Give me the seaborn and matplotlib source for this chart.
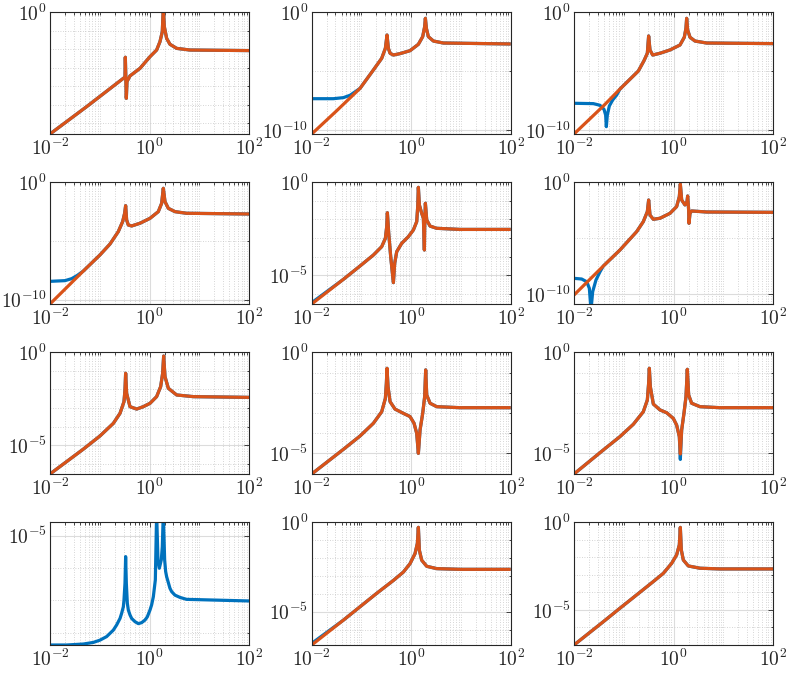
import numpy as np
import pandas as pd
import matplotlib
matplotlib.use("Agg")
import matplotlib.pyplot as plt
import seaborn as sns
from matplotlib.ticker import FixedLocator, FixedFormatter, NullFormatter

sns.set_style("white")
plt.rcParams["mathtext.fontset"] = "cm"
plt.rcParams["font.family"] = ["DejaVu Serif"]

BLUE = "#0072BD"
ORANGE = "#D95319"

# ---------------- data (log10 of frequency / log10 of magnitude) ----------------
# Panel A (row 1, col 1)
f_A = [-2.0, -1.264, -0.528, -0.495, -0.488, -0.468, -0.455, -0.395, -0.194, 0.007, 0.14, 0.207, 0.254, 0.274, 0.294, 0.341, 0.408, 0.542, 0.809, 2.0]
o_A = [-6.58, -5.10, -3.57, -3.51, -2.43, -4.65, -3.75, -3.44, -3.03, -2.40, -2.04, -1.59, -1.05, 0.3, -0.77, -1.41, -1.73, -1.95, -2.04, -2.07]

# Panel B (row 1, col 2)
f_B = [-2.0, -1.497, -1.028, -0.760, -0.593, -0.519, -0.486, -0.459, -0.425, -0.358, -0.224, -0.023, 0.144, 0.231, 0.271, 0.285, 0.305, 0.345, 0.446, 0.647, 2.0]
o_B = [-10.34, -8.36, -6.46, -4.90, -3.91, -3.06, -1.93, -3.06, -3.48, -3.63, -3.51, -3.26, -2.72, -2.07, -1.22, -0.51, -1.36, -2.07, -2.44, -2.61, -2.69]
bf_B = [-2.0, -1.564, -1.363, -1.229, -1.095]
b_B = [-7.34, -7.34, -7.25, -7.05, -6.66]

# Panel C (row 1, col 3)
f_C = [-2.0, -1.411, -1.077, -0.709, -0.595, -0.528, -0.502, -0.475, -0.421, -0.274, -0.074, 0.127, 0.214, 0.247, 0.261, 0.281, 0.328, 0.428, 0.662, 2.0]
o_C = [-10.34, -7.96, -6.52, -4.99, -4.11, -3.48, -2.01, -3.20, -3.63, -3.48, -3.20, -2.78, -2.12, -1.36, -0.51, -1.50, -2.12, -2.44, -2.61, -2.66]
bf_C = [-2.0, -1.612, -1.478, -1.398, -1.365, -1.351, -1.331, -1.291, -1.224, -1.144]
b_C = [-7.73, -7.76, -7.90, -8.24, -8.73, -9.72, -8.73, -7.96, -7.45, -7.03]

# Panel D (row 2, col 1)
f_D = [-2.0, -1.331, -0.997, -0.796, -0.629, -0.542, -0.502, -0.482, -0.462, -0.428, -0.361, -0.194, 0.007, 0.174, 0.241, 0.274, 0.308, 0.375, 0.508, 0.742, 2.0]
o_D = [-10.37, -7.56, -6.19, -5.26, -4.20, -3.35, -2.64, -1.99, -3.21, -3.64, -3.72, -3.49, -3.07, -2.50, -1.79, -0.51, -1.65, -2.22, -2.50, -2.64, -2.70]
bf_D = [-2.0, -1.699, -1.565, -1.451]
b_D = [-8.44, -8.38, -8.21, -7.93]

# Panel E (row 2, col 2)
f_E = [-2.0, -1.363, -1.028, -0.760, -0.593, -0.519, -0.492, -0.479, -0.452, -0.412, -0.358, -0.332, -0.291, -0.191, -0.057, 0.044, 0.111, 0.131, 0.144, 0.164, 0.211, 0.245, 0.265, 0.271, 0.285, 0.312, 0.379, 0.513, 0.982, 2.0]
o_E = [-6.56, -5.23, -4.51, -3.92, -3.47, -3.02, -2.39, -1.64, -2.75, -4.01, -5.41, -4.37, -3.74, -3.29, -2.93, -2.57, -2.12, -1.31, -0.27, -1.22, -1.67, -1.94, -3.65, -2.39, -1.13, -2.03, -2.36, -2.48, -2.54, -2.54]
b_E_start = -6.49

# Panel F (row 2, col 3)
f_F = [-2.0, -1.411, -1.077, -0.742, -0.609, -0.528, -0.502, -0.475, -0.408, -0.274, -0.074, 0.060, 0.114, 0.134, 0.161, 0.227, 0.268, 0.281, 0.301, 0.308, 0.328, 0.361, 0.662, 2.0]
o_F = [-10.06, -7.47, -6.04, -4.40, -3.51, -2.62, -1.58, -2.92, -3.30, -3.21, -2.77, -2.17, -1.28, -0.15, -1.58, -2.02, -1.73, -1.22, -2.47, -3.66, -2.77, -2.56, -2.65, -2.68]
bf_F = [-2.0, -1.846, -1.746, -1.692, -1.659, -1.625, -1.559, -1.478]
b_F = [-8.57, -8.63, -8.87, -9.46, -11.4, -9.76, -8.72, -7.98]

# Panel G (row 3, col 1)
f_G = [-2.0, -1.331, -0.997, -0.729, -0.595, -0.515, -0.495, -0.482, -0.462, -0.395, -0.261, -0.127, 0.007, 0.140, 0.221, 0.261, 0.281, 0.308, 0.375, 0.542, 0.876, 2.0]
o_G = [-6.56, -5.22, -4.51, -3.83, -3.29, -2.66, -2.03, -1.13, -2.21, -2.93, -3.06, -2.93, -2.75, -2.39, -1.85, -1.13, -0.20, -1.31, -1.94, -2.30, -2.39, -2.43]

# Panel H (row 3, col 2)
f_H = [-2.0, -1.363, -1.028, -0.760, -0.593, -0.519, -0.499, -0.486, -0.466, -0.425, -0.325, -0.157, -0.023, 0.057, 0.111, 0.144, 0.178, 0.231, 0.271, 0.291, 0.312, 0.379, 0.513, 0.982, 2.0]
o_H = [-6.02, -4.80, -4.14, -3.51, -2.94, -2.28, -1.53, -0.79, -1.70, -2.44, -2.81, -3.02, -3.18, -3.51, -4.01, -5.00, -3.84, -3.02, -2.19, -0.87, -2.11, -2.52, -2.69, -2.74, -2.74]

# Panel I (row 3, col 3)
f_I = [-2.0, -1.411, -1.077, -0.809, -0.609, -0.528, -0.502, -0.488, -0.468, -0.408, -0.274, -0.140, -0.007, 0.060, 0.114, 0.134, 0.161, 0.207, 0.248, 0.274, 0.301, 0.361, 0.528, 0.930, 2.0]
o_I = [-6.02, -4.83, -4.17, -3.56, -2.94, -2.36, -1.53, -0.79, -1.70, -2.56, -2.85, -2.99, -3.27, -3.60, -4.17, -5.03, -3.84, -3.02, -2.19, -0.84, -2.11, -2.52, -2.69, -2.74, -2.74]
b_I = [-6.02, -4.83, -4.17, -3.56, -2.94, -2.36, -1.53, -0.79, -1.70, -2.56, -2.85, -2.99, -3.27, -3.60, -4.17, -5.30, -3.84, -3.02, -2.19, -0.84, -2.11, -2.52, -2.69, -2.74, -2.74]

# Panel J (row 4, col 1) - only one curve
f_J = [-2.0, -1.666, -1.331, -1.130, -0.997, -0.863, -0.796, -0.729, -0.662, -0.595, -0.562, -0.528, -0.515, -0.495, -0.482, -0.468, -0.448, -0.428, -0.395, -0.361, -0.294, -0.227, -0.161, -0.094, -0.047, 0.007, 0.040, 0.074, 0.114, 0.140, 0.167, 0.194, 0.234, 0.254, 0.274, 0.301, 0.321, 0.341, 0.408, 0.441, 0.508, 0.609, 0.742, 2.0]
b_J = [-8.38, -8.38, -8.35, -8.30, -8.23, -8.12, -8.02, -7.92, -7.76, -7.56, -7.40, -7.20, -6.99, -6.47, -5.65, -6.47, -7.09, -7.30, -7.45, -7.56, -7.66, -7.72, -7.69, -7.61, -7.51, -7.30, -7.14, -6.89, -6.37, -4.31, -5.75, -6.01, -5.75, -5.34, -4.31, -5.75, -6.11, -6.27, -6.63, -6.73, -6.84, -6.91, -6.97, -7.02]

# Panel K (row 4, col 2)
f_K = [-2.0, -1.363, -1.028, -0.693, -0.358, -0.157, -0.023, 0.077, 0.124, 0.144, 0.164, 0.211, 0.312, 0.513, 0.982, 2.0]
o_K = [-6.86, -5.47, -4.72, -3.97, -3.25, -2.78, -2.31, -1.75, -1.18, -0.28, -1.56, -2.12, -2.46, -2.59, -2.63, -2.63]
b_K_start = -6.77

# Panel L (row 4, col 3)
f_L = [-2.0, -1.411, -1.077, -0.742, -0.408, -0.207, -0.040, 0.060, 0.114, 0.134, 0.154, 0.194, 0.294, 0.528, 0.930, 2.0]
o_L = [-7.00, -5.67, -4.90, -4.14, -3.38, -2.91, -2.34, -1.86, -1.29, -0.29, -1.58, -2.15, -2.49, -2.62, -2.66, -2.66]

# axis ranges (log10) and tick decades
ylims = [(-6.58, 0), (-10.34, 0), (-10.34, 0),
         (-10.37, 0), (-6.56, 0), (-10.86, 0),
         (-6.56, 0), (-6.02, 0), (-6.02, 0),
         (-8.38, -4.59), (-6.86, 0), (-7.0, 0)]
y_major = [[0], [-10, 0], [-10, 0],
           [-10, 0], [-5, 0], [-10, 0],
           [-5, 0], [-5, 0], [-5, 0],
           [-5], [-5, 0], [-5, 0]]
y_minor = [[-1, -2, -3, -4, -5, -6], [-5], [-5],
           [-5], [-1, -2, -3, -4, -6], [-5],
           [-1, -2, -3, -4, -6], [-1, -2, -3, -4, -6], [-1, -2, -3, -4, -6],
           [-6, -7, -8], [-1, -2, -3, -4, -6], [-1, -2, -3, -4, -6]]
x_major = [-2, 0, 2]


def join(bf, b, f, o):
    """blue low-frequency part followed by the orange curve where they coincide"""
    xs = list(bf) + [x for x in f if x > bf[-1]]
    ys = list(b) + [y for x, y in zip(f, o) if x > bf[-1]]
    return xs, ys


curves = [
    [(f_A, o_A, BLUE), (f_A, o_A, ORANGE)],
    [(*join(bf_B, b_B, f_B, o_B), BLUE), (f_B, o_B, ORANGE)],
    [(*join(bf_C, b_C, f_C, o_C), BLUE), (f_C, o_C, ORANGE)],
    [(*join(bf_D, b_D, f_D, o_D), BLUE), (f_D, o_D, ORANGE)],
    [(f_E, [b_E_start] + o_E[1:], BLUE), (f_E, o_E, ORANGE)],
    [(*join(bf_F, b_F, f_F, o_F), BLUE), (f_F, o_F, ORANGE)],
    [(f_G, o_G, BLUE), (f_G, o_G, ORANGE)],
    [(f_H, o_H, BLUE), (f_H, o_H, ORANGE)],
    [(f_I, b_I, BLUE), (f_I, o_I, ORANGE)],
    [(f_J, b_J, BLUE)],
    [(f_K, [b_K_start] + o_K[1:], BLUE), (f_K, o_K, ORANGE)],
    [(f_L, o_L, BLUE), (f_L, o_L, ORANGE)],
]

# ---------------- layout ----------------
W, H = 792, 675
fig = plt.figure(figsize=(W / 100, H / 100), dpi=100)
cols = [(50, 249.3), (311.7, 510.7), (574, 773.3)]
rows = [(12.3, 134), (182.3, 304), (352.3, 474), (522.3, 645)]


def lab(e):
    return r"$10^{%d}$" % e


x_minor = [m * 10.0 ** k for k in range(-2, 2) for m in range(2, 10)] + [0.1, 10.0]

for i in range(12):
    r, c = divmod(i, 3)
    x0, x1 = cols[c]
    y0, y1 = rows[r]
    ax = fig.add_axes([x0 / W, 1 - y1 / H, (x1 - x0) / W, (y1 - y0) / H])
    ax.set_xscale("log")
    ax.set_yscale("log")
    for fx, my, col in curves[i]:
        df = pd.DataFrame({"f": 10.0 ** np.array(fx), "m": 10.0 ** np.array(my)})
        sns.lineplot(data=df, x="f", y="m", ax=ax, color=col, linewidth=2.3,
                     sort=False, estimator=None, solid_capstyle="butt",
                     solid_joinstyle="round")
    ax.set_xlabel("")
    ax.set_ylabel("")
    ax.set_xlim(1e-2, 1e2)
    ax.set_ylim(10.0 ** ylims[i][0], 10.0 ** ylims[i][1])

    ax.xaxis.set_major_locator(FixedLocator([10.0 ** e for e in x_major]))
    ax.xaxis.set_major_formatter(FixedFormatter([lab(e) for e in x_major]))
    ax.xaxis.set_minor_locator(FixedLocator(x_minor))
    ax.xaxis.set_minor_formatter(NullFormatter())
    ax.yaxis.set_major_locator(FixedLocator([10.0 ** e for e in y_major[i]]))
    ax.yaxis.set_major_formatter(FixedFormatter([lab(e) for e in y_major[i]]))
    ax.yaxis.set_minor_locator(FixedLocator([10.0 ** e for e in y_minor[i]]))
    ax.yaxis.set_minor_formatter(NullFormatter())

    ax.set_axisbelow(True)
    ax.grid(which="major", color="#dcdcdc", linewidth=0.8, linestyle="-")
    ax.grid(which="minor", color="#c8c8c8", linewidth=0.6, linestyle=(0, (1, 2)))
    ax.tick_params(which="both", direction="in", top=True, right=True,
                   width=0.6, color="#262626", labelsize=14, pad=2.5)
    ax.tick_params(which="major", length=3.5)
    ax.tick_params(which="minor", length=1.8)
    for sp in ax.spines.values():
        sp.set_color("#262626")
        sp.set_linewidth(0.8)
        sp.set_visible(True)

fig.savefig("out.png", dpi=100)
